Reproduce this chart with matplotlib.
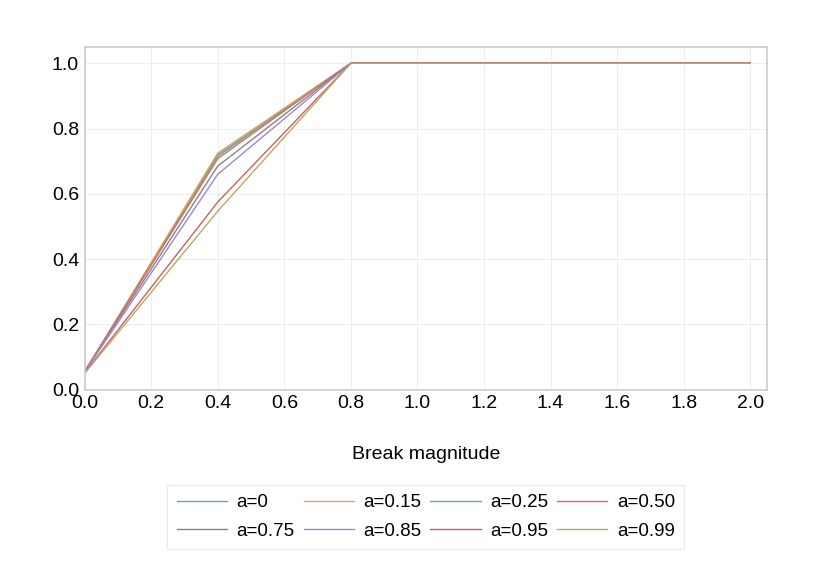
import numpy as np
import matplotlib
matplotlib.use('Agg')
import matplotlib.pyplot as plt

plt.rcParams['font.family'] = ['Liberation Sans', 'DejaVu Sans']

magnitude = [0.0, 0.4, 0.8, 1.2, 1.6, 2.0]
labels = ['a=0', 'a=0.15', 'a=0.25', 'a=0.50', 'a=0.75', 'a=0.85', 'a=0.95', 'a=0.99']
power = [
    [0.055, 0.720, 1.0, 1.0, 1.0, 1.0],
    [0.055, 0.725, 1.0, 1.0, 1.0, 1.0],
    [0.055, 0.715, 1.0, 1.0, 1.0, 1.0],
    [0.055, 0.708, 1.0, 1.0, 1.0, 1.0],
    [0.055, 0.685, 1.0, 1.0, 1.0, 1.0],
    [0.055, 0.660, 1.0, 1.0, 1.0, 1.0],
    [0.052, 0.575, 1.0, 1.0, 1.0, 1.0],
    [0.050, 0.547, 1.0, 1.0, 1.0, 1.0],
]
colors = ['#6c9be0', '#f2a160', '#60b878', '#e86464',
          '#858585', '#a484d4', '#cc6060', '#b8aa64']

fig, ax = plt.subplots(figsize=(8.3, 5.86), dpi=100)

lines = []
for lab, p, c in zip(labels, power, colors):
    ln, = ax.plot(magnitude, p, color=c, linewidth=1.0, label=lab)
    lines.append(ln)

ax.set_xlim(0, 2.05)
ax.set_ylim(0, 1.05)
ax.set_xticks(np.arange(0, 2.01, 0.2))
ax.set_yticks(np.arange(0, 1.01, 0.2))
ax.xaxis.set_major_formatter(matplotlib.ticker.FormatStrFormatter('%.1f'))
ax.yaxis.set_major_formatter(matplotlib.ticker.FormatStrFormatter('%.1f'))
ax.grid(True, color='#eeeeee', linewidth=0.8)
ax.set_axisbelow(True)
for sp in ax.spines.values():
    sp.set_color('#cccccc')
    sp.set_linewidth(1.2)
ax.tick_params(axis='both', length=0, labelsize=14, pad=4)

ax.set_xlabel('Break magnitude', fontsize=14, labelpad=24)

# legend is filled row by row in the reference
order = [0, 4, 1, 5, 2, 6, 3, 7]
leg = ax.legend([lines[i] for i in order], [labels[i] for i in order],
                loc='upper center', bbox_to_anchor=(0.5, -0.277), ncol=4,
                fontsize=13.5, frameon=True, fancybox=False, handlelength=2.67,
                columnspacing=0.5, handletextpad=0.5, labelspacing=0.62,
                borderpad=0.5, borderaxespad=0)
leg.get_frame().set_edgecolor('#e6e6e6')
leg.get_frame().set_linewidth(1.0)

plt.subplots_adjust(left=0.102, right=0.924, top=0.92, bottom=0.335)
plt.savefig('out.png', dpi=100)
